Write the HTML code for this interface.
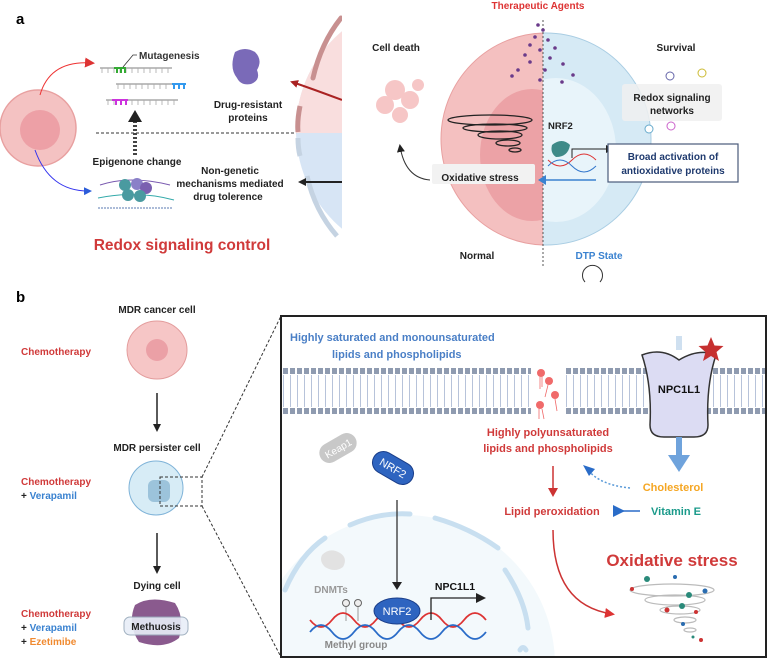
<!DOCTYPE html>
<html><head><meta charset="utf-8"><style>
html,body{margin:0;padding:0;background:#fff;width:768px;height:659px;overflow:hidden}
svg{display:block;font-family:"Liberation Sans",sans-serif;font-weight:bold}
</style></head><body>
<svg width="768" height="659" viewBox="0 0 768 659" xmlns="http://www.w3.org/2000/svg">
<defs>
<marker id="ak" markerWidth="8" markerHeight="8" refX="6" refY="4" orient="auto" markerUnits="userSpaceOnUse"><path d="M0,0L8,4L0,8z" fill="#222"/></marker>
<marker id="ar" markerWidth="10" markerHeight="10" refX="7" refY="5" orient="auto" markerUnits="userSpaceOnUse"><path d="M0,0L10,5L0,10z" fill="#d33"/></marker>
<marker id="ab" markerWidth="8" markerHeight="8" refX="6" refY="4" orient="auto" markerUnits="userSpaceOnUse"><path d="M0,0L8,4L0,8z" fill="#2b5cd9"/></marker>
<marker id="adr" markerWidth="8" markerHeight="8" refX="6" refY="4" orient="auto" markerUnits="userSpaceOnUse"><path d="M0,0L8,4L0,8z" fill="#a22"/></marker>
<clipPath id="cl"><rect x="280" y="0" width="62" height="280"/></clipPath>
<clipPath id="clT"><rect x="280" y="0" width="62" height="133"/></clipPath>
<clipPath id="cL"><rect x="400" y="0" width="143" height="280"/></clipPath>
<clipPath id="cR"><rect x="543" y="0" width="220" height="280"/></clipPath>
<clipPath id="box"><rect x="282" y="317" width="483" height="339"/></clipPath>
</defs>

<text x="16" y="24" font-size="15">a</text>
<circle cx="38" cy="128" r="38" fill="#f4c2c2" stroke="#e8a0a0" stroke-width="1.5"/>
<circle cx="40" cy="130" r="20" fill="#eda0a6"/>
<path d="M40,95 Q50,60 92,63" fill="none" stroke="#e33" stroke-width="1" marker-end="url(#ar)"/>
<path d="M35,150 Q50,192 90,191" fill="none" stroke="#33e" stroke-width="1" marker-end="url(#ab)"/>
<g stroke="#999" stroke-width="1.2">
<line x1="100" y1="68" x2="172" y2="68"/><line x1="116" y1="84" x2="186" y2="84"/><line x1="106" y1="100" x2="178" y2="100"/>
</g>
<g stroke="#aaa" stroke-width="0.8">
<path d="M102,68v5M108,68v5M114,68v5M120,68v5M126,68v5M132,68v5M138,68v5M144,68v5M150,68v5M156,68v5M162,68v5M168,68v5"/>
<path d="M118,84v5M124,84v5M130,84v5M136,84v5M142,84v5M148,84v5M154,84v5M160,84v5M166,84v5"/>
<path d="M108,100v5M114,100v5M132,100v5M138,100v5M144,100v5M150,100v5M156,100v5M162,100v5M168,100v5M174,100v5"/>
</g>
<path d="M114,68h12M117,68v5M121,68v5M125,68v5" stroke="#3a3" stroke-width="2"/>
<path d="M172,84h14M174,84v5M179,84v5M184,84v5" stroke="#39e" stroke-width="2"/>
<path d="M112,100h16M116,100v5M121,100v5M126,100v5" stroke="#c3d" stroke-width="2"/>
<path d="M123,67L133,55H137" stroke="#333" fill="none" stroke-width="0.8"/>
<text x="139" y="59" font-size="10" fill="#333">Mutagenesis</text>
<path d="M235,52q10,-6 20,0q8,8 2,18q4,10 -6,14q-10,2 -14,-6q-8,-10 -2,-26z" fill="#7a6ab8"/>
<text x="248" y="108" font-size="10" text-anchor="middle" fill="#222">Drug-resistant</text>
<text x="248" y="121" font-size="10" text-anchor="middle" fill="#222">proteins</text>
<line x1="96" y1="133" x2="342" y2="133" stroke="#333" stroke-dasharray="3,2"/>
<line x1="135" y1="155" x2="135" y2="120" stroke="#444" stroke-width="4" stroke-dasharray="2,2"/>
<path d="M128,122L135,110L142,122z" fill="#222"/>
<text x="137" y="165" font-size="10" text-anchor="middle" fill="#222">Epigenone change</text>
<path d="M100,185q30,-10 70,0" stroke="#7a5ab0" fill="none"/>
<path d="M98,198q40,-8 76,2" stroke="#3aa" fill="none"/>
<g fill="#4a9aa0"><circle cx="125" cy="185" r="6"/><circle cx="137" cy="184" r="6" fill="#8a80c8"/><circle cx="146" cy="188" r="6" fill="#7a60b0"/><circle cx="128" cy="195" r="6"/><circle cx="140" cy="196" r="6"/></g>
<line x1="98" y1="208" x2="172" y2="208" stroke="#5a7ab0" stroke-dasharray="2,1"/>
<text x="230" y="174" font-size="10" text-anchor="middle" fill="#222">Non-genetic</text>
<text x="230" y="187" font-size="10" text-anchor="middle" fill="#222">mechanisms mediated</text>
<text x="228" y="200" font-size="10" text-anchor="middle" fill="#222">drug tolerence</text>
<g clip-path="url(#cl)">
<circle cx="425" cy="130" r="129" fill="#d7e5f5"/>
<circle cx="425" cy="130" r="129" fill="#f9dede" clip-path="url(#clT)"/>
<path d="M341,18 q-20,25 -28,60" stroke="#c89090" stroke-width="5" fill="none" stroke-linecap="round"/>
<path d="M300,106 q-3,15 -2,26" stroke="#c89090" stroke-width="5" fill="none"/>
<path d="M298,138 q0,10 2,18" stroke="#c5d3e2" stroke-width="5" fill="none"/>
<path d="M307,176 q8,35 30,60" stroke="#c5d3e2" stroke-width="5" fill="none"/>
<path d="M342,100 Q310,88 292,82" stroke="#a22" stroke-width="2" fill="none" marker-end="url(#adr)"/>
</g>
<line x1="342" y1="182" x2="300" y2="182" stroke="#222" stroke-width="2" marker-end="url(#ak)"/>
<text x="182" y="250" font-size="15.5" text-anchor="middle" fill="#d03a3a">Redox signaling control</text>

<text x="538" y="9" font-size="10" text-anchor="middle" fill="#d33">Therapeutic Agents</text>
<ellipse cx="546" cy="139" rx="105" ry="106" fill="#f4c0c0" stroke="#e8a0a0" clip-path="url(#cL)"/>
<ellipse cx="532" cy="155" rx="52" ry="66" fill="#eca2a6" clip-path="url(#cL)"/>
<ellipse cx="546" cy="139" rx="105" ry="106" fill="#d6eaf5" stroke="#a9cde3" clip-path="url(#cR)"/>
<ellipse cx="556" cy="150" rx="60" ry="72" fill="#e8f4fa" clip-path="url(#cR)"/>
<line x1="543" y1="20" x2="543" y2="268" stroke="#555" stroke-dasharray="2,2"/>
<g fill="#6a3a8a"><circle cx="538" cy="25" r="1.8"/><circle cx="543" cy="30" r="1.8"/><circle cx="535" cy="37" r="1.8"/><circle cx="548" cy="40" r="1.8"/><circle cx="530" cy="45" r="1.8"/><circle cx="540" cy="50" r="1.8"/><circle cx="555" cy="48" r="1.8"/><circle cx="525" cy="55" r="1.8"/><circle cx="550" cy="58" r="1.8"/><circle cx="530" cy="62" r="1.8"/><circle cx="563" cy="64" r="1.8"/><circle cx="518" cy="70" r="1.8"/><circle cx="545" cy="70" r="1.8"/><circle cx="573" cy="75" r="1.8"/><circle cx="512" cy="76" r="1.8"/><circle cx="540" cy="80" r="1.8"/><circle cx="562" cy="82" r="1.8"/></g>
<g fill="none" stroke="#222" stroke-width="1.3"><ellipse cx="490" cy="120" rx="42" ry="5"/><ellipse cx="495" cy="128" rx="32" ry="4"/><ellipse cx="500" cy="135" rx="22" ry="4"/><ellipse cx="508" cy="143" rx="12" ry="3"/><ellipse cx="515" cy="150" rx="6" ry="2"/></g>
<text x="396" y="51" font-size="10" text-anchor="middle" fill="#222">Cell death</text>
<g fill="#f4b8b8" opacity="0.8"><circle cx="395" cy="90" r="10"/><circle cx="410" cy="100" r="9"/><circle cx="385" cy="105" r="9"/><circle cx="400" cy="115" r="8"/><circle cx="418" cy="85" r="6"/></g>
<path d="M430,180 Q405,178 400,146" fill="none" stroke="#333" marker-end="url(#ak)"/>
<text x="676" y="51" font-size="10" text-anchor="middle" fill="#222">Survival</text>
<rect x="622" y="84" width="100" height="37" rx="3" fill="#f0f0f0" opacity="0.85"/>
<text x="672" y="101" font-size="10" text-anchor="middle" fill="#222">Redox signaling</text>
<text x="672" y="114" font-size="10" text-anchor="middle" fill="#222">networks</text>
<g fill="#fff" stroke-width="1"><circle cx="670" cy="76" r="4" stroke="#66a"/><circle cx="702" cy="73" r="4" stroke="#cb3"/><circle cx="649" cy="129" r="4" stroke="#6ac"/><circle cx="671" cy="126" r="4" stroke="#c6c"/></g>
<text x="548" y="129" font-size="9.5" fill="#222">NRF2</text>
<path d="M552,145q10,-8 18,0q-2,12 -14,12q-6,-4 -4,-12z" fill="#3e8a88"/>
<path d="M548,160q12,12 24,0q12,-12 24,0" stroke="#d33" fill="none"/><path d="M548,166q12,-12 24,0q12,12 24,0" stroke="#37c" fill="none"/>
<path d="M572,158v-9h40" fill="none" stroke="#222" marker-end="url(#ak)"/>
<rect x="608" y="144" width="130" height="38" fill="#fff" stroke="#4a5a7a" stroke-width="1.2"/>
<text x="673" y="160" font-size="10" text-anchor="middle" fill="#1f3a6e">Broad activation of</text>
<text x="673" y="174" font-size="10" text-anchor="middle" fill="#1f3a6e">antioxidative  proteins</text>
<rect x="432" y="164" width="103" height="20" rx="2" fill="#f2f2f2"/>
<text x="480" y="181" font-size="10" text-anchor="middle" fill="#222">Oxidative stress</text>
<line x1="596" y1="180" x2="546" y2="180" stroke="#3a82d0" stroke-width="1.5"/>
<path d="M546,175L538,180L546,185z" fill="#3a82d0"/>
<text x="477" y="259" font-size="10" text-anchor="middle" fill="#222">Normal</text>
<text x="599" y="259" font-size="10" text-anchor="middle" fill="#3a82d0">DTP State</text>
<path d="M585,282 a10,10 0 1 1 15,0" fill="none" stroke="#333"/>

<text x="16" y="302" font-size="15">b</text>
<text x="157" y="313" font-size="10" text-anchor="middle" fill="#222">MDR cancer cell</text>
<ellipse cx="157" cy="350" rx="30" ry="29" fill="#f6c6c6" stroke="#e39c9c"/>
<circle cx="157" cy="350" r="11" fill="#eba0a6"/>
<text x="21" y="355" font-size="10" fill="#d03a3a">Chemotherapy</text>
<line x1="157" y1="393" x2="157" y2="430" stroke="#222" stroke-width="1.5" marker-end="url(#ak)"/>
<text x="157" y="451" font-size="10" text-anchor="middle" fill="#222">MDR persister cell</text>
<circle cx="156" cy="488" r="27" fill="#d7ecf6" stroke="#7fb3d8"/>
<rect x="148" y="480" width="22" height="22" rx="6" fill="#9cc3db"/>
<text x="21" y="485" font-size="10" fill="#d03a3a">Chemotherapy</text>
<text x="21" y="499" font-size="10" fill="#222">+ <tspan fill="#3a82d0">Verapamil</tspan></text>
<rect x="160" y="477" width="42" height="29" fill="none" stroke="#333" stroke-dasharray="3,2"/>
<line x1="202" y1="477" x2="281" y2="316" stroke="#333" stroke-dasharray="3,2"/>
<line x1="202" y1="506" x2="281" y2="657" stroke="#333" stroke-dasharray="3,2"/>
<line x1="157" y1="533" x2="157" y2="572" stroke="#222" stroke-width="1.5" marker-end="url(#ak)"/>
<text x="157" y="589" font-size="10" text-anchor="middle" fill="#222">Dying cell</text>
<path d="M135,605q15,-10 40,-2q10,15 4,35q-15,12 -40,4q-12,-18 -4,-37z" fill="#8a5a8e"/>
<rect x="124" y="617" width="64" height="18" rx="6" fill="#e8eef8" stroke="#9ab" opacity="0.9"/>
<text x="156" y="630" font-size="10" text-anchor="middle" fill="#222">Methuosis</text>
<text x="21" y="617" font-size="10" fill="#d03a3a">Chemotherapy</text>
<text x="21" y="631" font-size="10" fill="#222">+ <tspan fill="#3a82d0">Verapamil</tspan></text>
<text x="21" y="645" font-size="10" fill="#222">+ <tspan fill="#f08a30">Ezetimibe</tspan></text>

<rect x="281" y="316" width="485" height="341" fill="#fff" stroke="#222" stroke-width="2"/>
<g clip-path="url(#box)">
<circle cx="405" cy="665" r="150" fill="#f3f9fc"/>
<g fill="none" stroke="#c8dff0" stroke-width="5" stroke-linecap="round">
<path d="M285,590 Q300,555 325,538"/><path d="M350,525 Q380,512 410,514"/><path d="M435,518 Q470,528 498,548"/><path d="M505,570 Q525,600 528,628"/><path d="M520,650 q3,-5 6,0"/>
</g>
</g>
<text x="290" y="341" font-size="11" fill="#4a7fc6">Highly saturated and monounsaturated</text>
<text x="332" y="358" font-size="11" fill="#4a7fc6">lipids and phospholipids</text>
<line x1="283" y1="371" x2="531" y2="371" stroke="#8f9bb0" stroke-width="6" stroke-dasharray="5,2"/>
<line x1="283" y1="411" x2="531" y2="411" stroke="#8f9bb0" stroke-width="6" stroke-dasharray="5,2"/>
<line x1="283" y1="391" x2="531" y2="391" stroke="#b7c3da" stroke-width="32" stroke-dasharray="1,6"/>
<line x1="566" y1="371" x2="765" y2="371" stroke="#8f9bb0" stroke-width="6" stroke-dasharray="5,2"/>
<line x1="566" y1="411" x2="765" y2="411" stroke="#8f9bb0" stroke-width="6" stroke-dasharray="5,2"/>
<line x1="566" y1="391" x2="765" y2="391" stroke="#b7c3da" stroke-width="32" stroke-dasharray="1,6"/>
<g fill="#f06a6a"><circle cx="541" cy="373" r="4"/><circle cx="549" cy="381" r="4"/><circle cx="555" cy="395" r="4"/><circle cx="540" cy="405" r="4"/></g>
<g stroke="#f06a6a" stroke-width="0.8"><path d="M540,377v12M542,377v10M548,385l-3,12M555,399l2,12M539,409v10M542,409l2,10"/></g>
<line x1="679" y1="336" x2="679" y2="350" stroke="#cfe0f0" stroke-width="6"/>
<path d="M642,355 q20,-8 37,5 q20,-12 37,-5 q-10,30 -8,70 q0,12 -14,12 h-30 q-14,0 -14,-12 q2,-40 -8,-70z" fill="#dcdcf3" stroke="#333" stroke-width="1.5"/>
<text x="679" y="393" font-size="11" text-anchor="middle" fill="#111">NPC1L1</text>
<path d="M711,337l3.5,8.5 9,0.5 -7,6 2.5,9 -8,-5 -8,5 2.5,-9 -7,-6 9,-0.5z" fill="#c63030"/>
<line x1="679" y1="437" x2="679" y2="458" stroke="#6fa3dc" stroke-width="6"/>
<path d="M668,455L690,455L679,472z" fill="#6fa3dc"/>
<text x="548" y="436" font-size="11" text-anchor="middle" fill="#d03a3a">Highly polyunsaturated</text>
<text x="548" y="452" font-size="11" text-anchor="middle" fill="#d03a3a">lipids and phospholipids</text>
<text x="673" y="491" font-size="11" text-anchor="middle" fill="#f5a623">Cholesterol</text>
<path d="M630,488 Q600,485 588,470" fill="none" stroke="#5a9ad8" stroke-width="1.5" stroke-dasharray="2,2"/>
<path d="M583,465L595,469L589,476z" fill="#2a6cc8"/>
<line x1="553" y1="466" x2="553" y2="490" stroke="#c33" stroke-width="1.5"/>
<path d="M548,488L558,488L553,497z" fill="#c33"/>
<text x="552" y="515" font-size="11" text-anchor="middle" fill="#d03a3a">Lipid peroxidation</text>
<line x1="640" y1="511" x2="620" y2="511" stroke="#2a6cc8" stroke-width="1.5"/>
<path d="M613,505L625,511L613,517z" fill="#2a6cc8"/>
<text x="676" y="515" font-size="11" text-anchor="middle" fill="#1a9a8a">Vitamin E</text>
<path d="M553,530 Q553,605 612,614" fill="none" stroke="#c33" stroke-width="1.5" marker-end="url(#ar)"/>
<text x="672" y="566" font-size="17" text-anchor="middle" fill="#d03a3a">Oxidative stress</text>
<g fill="none" stroke="#bbb" stroke-width="1.2"><ellipse cx="672" cy="590" rx="42" ry="6"/><ellipse cx="675" cy="600" rx="30" ry="5"/><ellipse cx="680" cy="610" rx="20" ry="4"/><ellipse cx="685" cy="620" rx="11" ry="3"/><ellipse cx="690" cy="630" rx="6" ry="2"/></g>
<g><circle cx="647" cy="579" r="3" fill="#2a8a7a"/><circle cx="675" cy="577" r="2" fill="#2a6cb0"/><circle cx="705" cy="591" r="2.5" fill="#2a6cb0"/><circle cx="689" cy="595" r="3" fill="#2a8a7a"/><circle cx="632" cy="589" r="2" fill="#c33"/><circle cx="682" cy="606" r="3" fill="#2a8a7a"/><circle cx="667" cy="610" r="2.5" fill="#c33"/><circle cx="696" cy="612" r="2" fill="#c33"/><circle cx="683" cy="624" r="2" fill="#2a6cb0"/><circle cx="701" cy="640" r="2" fill="#c33"/><circle cx="693" cy="637" r="1.5" fill="#2a8a7a"/></g>
<g transform="translate(338,448) rotate(-30)"><rect x="-20" y="-10" width="40" height="20" rx="10" fill="#c8c8c8"/><text x="0" y="4" font-size="10" text-anchor="middle" fill="#fff" font-weight="normal">Keap1</text></g>
<g transform="translate(393,468) rotate(30)"><rect x="-22" y="-11" width="44" height="22" rx="11" fill="#2e64c0" stroke="#1a3e8a"/><text x="0" y="4" font-size="11" text-anchor="middle" fill="#fff" font-weight="normal">NRF2</text></g>
<line x1="397" y1="500" x2="397" y2="584" stroke="#333" stroke-width="1.3"/>
<path d="M392,582L402,582L397,590z" fill="#222"/>
<path d="M322,555q8,-8 18,-2q8,5 3,14q-8,6 -18,0q-6,-6 -3,-12z" fill="#e2e2e2"/>
<text x="331" y="593" font-size="10" text-anchor="middle" fill="#999">DNMTs</text>
<g stroke="#999"><line x1="346" y1="605" x2="346" y2="621"/><line x1="358" y1="605" x2="358" y2="621"/></g>
<circle cx="346" cy="603" r="3.5" fill="#eee" stroke="#666"/><circle cx="358" cy="603" r="3.5" fill="#eee" stroke="#666"/>
<path d="M310,620 q11,14 22,0 t22,0 t22,0 t22,0 t22,0 t22,0 t22,0 t22,0" stroke="#d33" fill="none" stroke-width="1.8"/>
<path d="M310,632 q11,-14 22,0 t22,0 t22,0 t22,0 t22,0 t22,0 t22,0 t22,0" stroke="#2a6cc8" fill="none" stroke-width="1.8"/>
<ellipse cx="397" cy="611" rx="23" ry="13" fill="#2e64c0" stroke="#1a3e8a"/>
<text x="397" y="615" font-size="11" text-anchor="middle" fill="#fff" font-weight="normal">NRF2</text>
<path d="M431,620 V598 H478" fill="none" stroke="#222" stroke-width="1.3"/>
<path d="M476,593L486,598L476,603z" fill="#222"/>
<text x="455" y="590" font-size="10.5" text-anchor="middle" fill="#111">NPC1L1</text>
<text x="356" y="648" font-size="10" text-anchor="middle" fill="#888">Methyl group</text>
</svg>
</body></html>
